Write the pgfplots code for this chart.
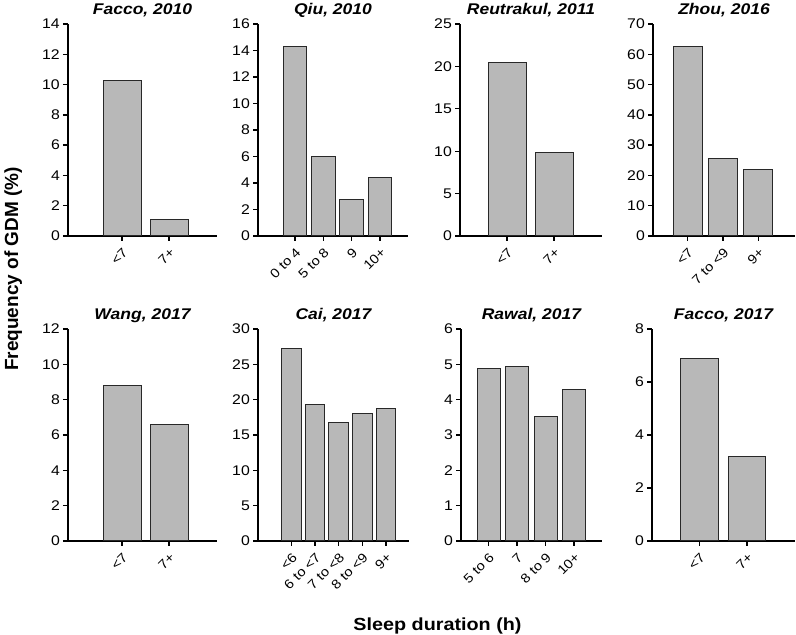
\documentclass[border=0pt]{standalone}
\usepackage{pgfplots}
\pgfplotsset{compat=1.18}
\usepackage{fontspec}
\setmainfont{Liberation Sans}[FakeStretch=1.13]
\newfontfamily\ylabfont{Liberation Sans}
\definecolor{barfill}{RGB}{184,184,184}
\definecolor{bardraw}{RGB}{40,40,40}
\pgfplotsset{
  panel/.style={
    scale only axis, height=212pt, anchor=south west,
    axis x line*=bottom, axis y line*=left,
    axis line style={-, line width=1.3pt, black},
    tick align=outside, major tick length=5pt,
    tick style={line width=1.3pt, black},
    ybar, ymin=0,
    /pgf/number format/assume math mode=true,
    yticklabel style={font=\fontsize{14}{16}\selectfont, inner sep=3pt},
    xticklabel style={font=\fontsize{13}{15}\selectfont, rotate=45, anchor=north east, inner sep=4pt},
    every axis title/.style={font=\fontsize{15.5}{18}\selectfont\bfseries\itshape, at={(0.5,1)}, anchor=base, yshift=9pt},
    xtick=data,
  },
  barstyle/.style={fill=barfill, draw=bardraw, line width=1pt},
}
\begin{document}
\begin{tikzpicture}
\path[use as bounding box] (0,0) rectangle (796pt,635pt);
% Row 1
\begin{axis}[panel, at={(68pt,399pt)}, width=149pt, xmin=-1.15, xmax=2.02, ymax=14, ytick={0,2,...,14}, bar width=38pt,
  xticklabels={<7,7+}, title={Facco, 2010}]
\addplot[barstyle] coordinates {(0,10.25) (1,1.07)};
\end{axis}
\begin{axis}[panel, at={(258pt,399pt)}, width=150pt, xmin=-1.306, xmax=3.99, ymax=16, ytick={0,2,...,16}, bar width=23.5pt,
  xticklabels={0 to 4,5 to 8,9,10+}, title={Qiu, 2010}]
\addplot[barstyle] coordinates {(0,14.3) (1,6.0) (2,2.72) (3,4.43)};
\end{axis}
\begin{axis}[panel, at={(460pt,399pt)}, width=142pt, xmin=-1.0, xmax=2.02, ymax=25, ytick={0,5,...,25}, bar width=38pt,
  xticklabels={<7,7+}, title={Reutrakul, 2011}]
\addplot[barstyle] coordinates {(0,20.45) (1,9.9)};
\end{axis}
\begin{axis}[panel, at={(653pt,399pt)}, width=142pt, xmin=-0.98, xmax=3.04, ymax=70, ytick={0,10,...,70}, bar width=29pt,
  xticklabels={<7,7 to <9,9+}, title={Zhou, 2016}]
\addplot[barstyle] coordinates {(0,62.5) (1,25.75) (2,22.1)};
\end{axis}
% Row 2
\begin{axis}[panel, at={(68pt,94pt)}, width=149pt, xmin=-1.15, xmax=2.02, ymax=12, ytick={0,2,...,12}, bar width=38pt,
  xticklabels={<7,7+}, title={Wang, 2017}]
\addplot[barstyle] coordinates {(0,8.8) (1,6.6)};
\end{axis}
\begin{axis}[panel, at={(258pt,94pt)}, width=151pt, xmin=-1.42, xmax=4.98, ymax=30, ytick={0,5,...,30}, bar width=19.5pt,
  xticklabels={<6,6 to <7,7 to <8,8 to <9,9+}, title={Cai, 2017}]
\addplot[barstyle] coordinates {(0,27.3) (1,19.35) (2,16.7) (3,18.1) (4,18.8)};
\end{axis}
\begin{axis}[panel, at={(461pt,94pt)}, width=141pt, xmin=-0.965, xmax=3.98, ymax=6, ytick={0,1,...,6}, bar width=23pt,
  xticklabels={5 to 6,7,8 to 9,10+}, title={Rawal, 2017}]
\addplot[barstyle] coordinates {(0,4.87) (1,4.93) (2,3.53) (3,4.28)};
\end{axis}
\begin{axis}[panel, at={(652pt,94pt)}, width=143pt, xmin=-1.0, xmax=2.01, ymax=8, ytick={0,2,...,8}, bar width=37.5pt,
  xticklabels={<7,7+}, title={Facco, 2017}]
\addplot[barstyle] coordinates {(0,6.87) (1,3.2)};
\end{axis}
\node[rotate=90, anchor=base, font=\ylabfont\fontsize{19}{22}\selectfont\bfseries] at (18pt,366pt) {Frequency of GDM (\%)};
\node[anchor=base, font=\fontsize{17.5}{20}\selectfont\bfseries] at (437.5pt,4.5pt) {Sleep duration (h)};
\end{tikzpicture}
\end{document}
